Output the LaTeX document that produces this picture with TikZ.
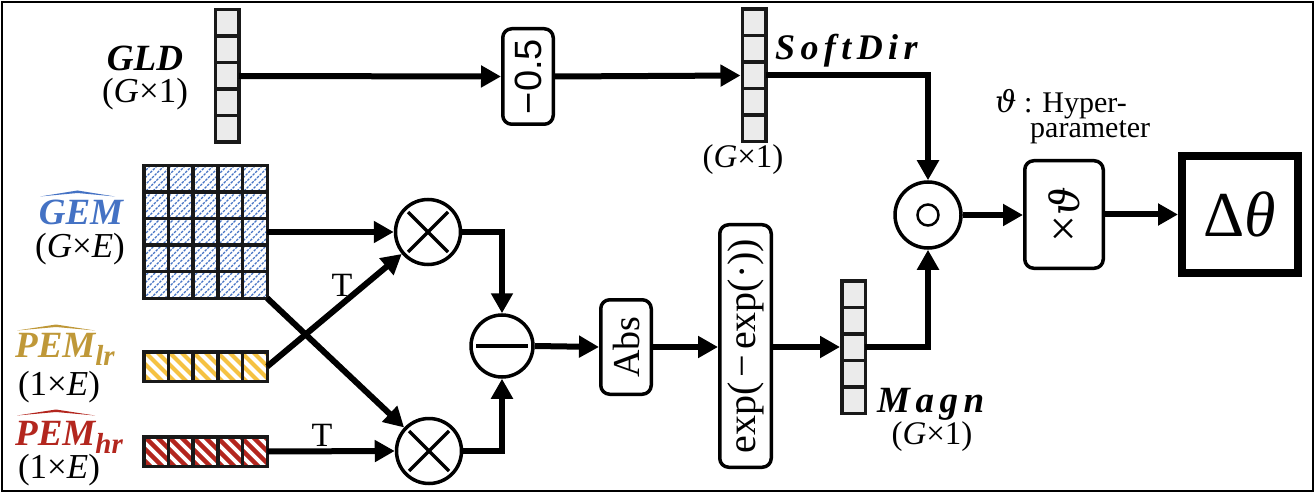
\documentclass[tikz,border=0pt]{standalone}
\usepackage{fontspec}
\setmainfont{Liberation Serif}
\newfontfamily\sansf{Liberation Sans}
\newfontfamily\grk{DejaVu Serif}
\usetikzlibrary{arrows.meta,calc}

\definecolor{gemblue}{HTML}{4472C4}
\definecolor{lrgold}{HTML}{BF9838}
\definecolor{lryellow}{HTML}{F5C242}
\definecolor{hrred}{HTML}{B3261E}
\definecolor{cellgray}{HTML}{EBEBEB}

\newcommand{\myfs}[1]{\fontsize{#1}{#1}\selectfont}
\newcommand{\lblfont}{\bfseries\itshape}
\newcommand{\vth}{{\grk\itshape ϑ}}

\tikzset{
  conn/.style={line width=6pt, -{Triangle[length=20pt,width=21pt]}},
  vecbox/.style={draw=none, fill=cellgray, minimum width=23.5pt, minimum height=132.5pt, inner sep=0pt, outer sep=0pt},
  matbox/.style={draw=none, fill=white, minimum width=123.5pt, inner sep=0pt, outer sep=0pt},
  gridline/.style={line width=3.5pt, draw=black!90},
  opnode/.style={circle, draw, line width=3.5pt, minimum size=65pt, inner sep=0pt, fill=white},
  rbox/.style={draw, line width=3.5pt, rounded corners=9pt, inner sep=0pt, fill=white},
  lbl/.style={inner sep=0pt},
  sym/.style={line width=3.5pt},
}

\newcommand{\drawvec}[1]{%
  \draw[gridline] (#1.south west) rectangle (#1.north east);
  \foreach \k in {1,...,4}
    \draw[gridline] ($(#1.north west)!\k/5!(#1.south west)$) -- ($(#1.north east)!\k/5!(#1.south east)$);
}
\newcommand{\drawrow}[1]{%
  \draw[gridline] (#1.south west) rectangle (#1.north east);
  \foreach \k in {1,...,4}
    \draw[gridline] ($(#1.north west)!\k/5!(#1.north east)$) -- ($(#1.south west)!\k/5!(#1.south east)$);
}

\begin{document}
\begin{tikzpicture}[x=1pt,y=1pt]
\useasboundingbox (0,0) rectangle (1316,-494);
\draw[line width=1.8pt] (2,-2) rectangle (1313,-491);

% ---------- vectors ----------
\node[vecbox] (gld) at (227,-76) {};
\node[vecbox] (sd) at (754,-75.5) {};
\node[vecbox] (magn) at (853.5,-347) {};
\drawvec{gld}
\drawvec{sd}
\drawvec{magn}

% ---------- GEM matrix ----------
\node[matbox, minimum height=132.5pt] (gem) at (205.5,-232) {};
\begin{scope}
  \clip (gem.south west) rectangle (gem.north east);
  \foreach \i in {0,7,...,280}
    \draw[gemblue, line width=1.3pt, dash pattern=on 2.5pt off 1.2pt] ($(gem.south west)+(\i-140,0)$) -- ++(140,140);
\end{scope}
\draw[gridline] (gem.south west) rectangle (gem.north east);
\foreach \k in {1,...,4} {
  \draw[gridline] ($(gem.north west)!\k/5!(gem.north east)$) -- ($(gem.south west)!\k/5!(gem.south east)$);
  \draw[gridline] ($(gem.north west)!\k/5!(gem.south west)$) -- ($(gem.north east)!\k/5!(gem.south east)$);
}

% ---------- PEM rows ----------
\node[matbox, minimum height=29.5pt] (pemlr) at (205.5,-366.5) {};
\node[matbox, minimum height=29.5pt] (pemhr) at (205.5,-451.5) {};
\begin{scope}
  \clip (pemlr.south west) rectangle (pemlr.north east);
  \foreach \i in {0,12,...,180}
    \draw[lryellow, line width=4pt] ($(pemlr.north west)+(\i-40,5)$) -- ++(40,-40);
\end{scope}
\begin{scope}
  \clip (pemhr.south west) rectangle (pemhr.north east);
  \foreach \i in {0,12,...,180}
    \draw[hrred, line width=4.3pt] ($(pemhr.north west)+(\i-40,5)$) -- ++(40,-40);
\end{scope}
\drawrow{pemlr}
\drawrow{pemhr}

% ---------- operators ----------
\node[opnode] (otu) at (428,-232) {};
\node[opnode] (otl) at (429,-451) {};
\node[opnode, minimum size=62pt] (minus) at (502,-346) {};
\node[opnode, minimum size=66pt] (odot) at (928,-215) {};
\draw[sym] ($(otu)+(-20,-20)$) -- ($(otu)+(20,20)$);
\draw[sym] ($(otu)+(-20,20)$) -- ($(otu)+(20,-20)$);
\draw[sym] ($(otl)+(-20,-20)$) -- ($(otl)+(20,20)$);
\draw[sym] ($(otl)+(-20,20)$) -- ($(otl)+(20,-20)$);
\draw[sym] ($(minus)+(-26,0)$) -- ($(minus)+(26,0)$);
\draw[line width=2.5pt] (odot) circle (10.5pt);

% ---------- boxes ----------
\node[rbox, minimum width=50.5pt, minimum height=95.5pt] (m05) at (528,-76.5) {};
\node[rotate=90, font=\sansf\myfs{38}] (m05t) at (m05) {−0.5};
\node[rbox, minimum width=50.5pt, minimum height=94.5pt] (abs) at (626,-347) {};
\node[rotate=90, font=\myfs{38}] (abst) at (abs) {Abs};
\node[rbox, minimum width=51.5pt, minimum height=242.5pt] (exp) at (745.5,-346) {};
\node[rotate=90, font=\myfs{40}] (expt) at (exp) {exp(\hspace{0.12em}−\hspace{0.12em}exp(·))};
\node[rbox, minimum width=78.5pt, minimum height=107.5pt] (thb) at (1064,-214.5) {};
\node[rotate=90, font=\myfs{40}] (thbt) at (thb) {{\myfs{48}×}\vth};
\node[draw, line width=8pt, minimum width=116pt, minimum height=117pt, inner sep=0pt] (dth) at (1240,-214.5) {};
\node[font=\myfs{64}] (dtht) at (dth) {Δ\textit{θ}};

% ---------- connectors ----------
\draw[conn] (gld.east) -- (m05.west);
\draw[conn, shorten >=1.75pt] (m05.east) -- (sd.west);
\draw[conn] (sd.east) -| (odot.north);
\draw[conn] (gem.east) -- (otu.west);
\draw[conn] (otu.east) -| (minus.north);
\draw[conn] (otl.east) -| (minus.south);
\draw[conn] (pemhr.east) -- (otl.west);
\draw[conn] (pemlr.east) -- (otu);
\draw[conn] (gem.south east) -- (otl);
\draw[conn] (minus.east) -- (abs.west);
\draw[conn] (abs.east) -- (abs.east -| exp.west);
\draw[conn, shorten >=1.75pt] (exp.east |- magn.west) -- (magn.west);
\draw[conn] (magn.east) -| (odot.south);
\draw[conn] (odot.east) -- (odot.east -| thb.west);
\draw[conn] (thb.east) -- (thb.east -| dth.west);

\node[font=\myfs{34}] (t1) at (342,-285) {T};
\node[font=\myfs{34}] (t2) at (322,-435) {T};

% ---------- labels ----------
\node[lbl, anchor=base, font=\lblfont\myfs{37}] (gldl) at (145,-71) {GLD};
\node[lbl, anchor=base, font=\myfs{35}] (gldd) at (145,-103) {(\textit{G}×1)};

\node[lbl, anchor=base, font=\lblfont\myfs{37}, text=gemblue] (geml) at (81,-225) {GEM};
\fill[gemblue] (40,-196.5) -- (77.5,-190.5) -- (115,-196.5) -- (77.5,-193) -- cycle;
\node[lbl, anchor=base, font=\myfs{35}] (gemd) at (80,-258) {(\textit{G}×\textit{E})};

\node[lbl, anchor=base west, font=\lblfont\myfs{37}, text=lrgold] (lrl) at (15,-357) {PEM\raisebox{-8pt}{\myfs{29}lr}};
\fill[lrgold] (17,-330.5) -- (56,-324.5) -- (95,-330.5) -- (56,-327) -- cycle;
\node[lbl, anchor=base, font=\myfs{35}] (lrd) at (59,-395) {(1×\textit{E})};

\node[lbl, anchor=base west, font=\lblfont\myfs{37}, text=hrred] (hrl) at (15,-445) {PEM\raisebox{-8pt}{\myfs{29}hr}};
\fill[hrred] (17,-415.5) -- (56,-409.5) -- (95,-415.5) -- (56,-412) -- cycle;
\node[lbl, anchor=base, font=\myfs{35}] (hrd) at (59,-478) {(1×\textit{E})};

\node[lbl, anchor=base west, font=\lblfont\myfs{36}] (sdl) at (775,-60) {\addfontfeature{LetterSpace=15}SoftDir};
\node[lbl, anchor=base, font=\myfs{33}] (sdd) at (743,-168) {(\textit{G}×1)};

\node[lbl, anchor=base west, font=\lblfont\myfs{37}] (magnl) at (877,-412) {\addfontfeature{LetterSpace=15}Magn};
\node[lbl, anchor=base, font=\myfs{33}] (magnd) at (932,-444) {(\textit{G}×1)};

\node[lbl, anchor=base west, font=\myfs{30}] (hyp1) at (995,-113) {\vth\ : Hyper-};
\node[lbl, anchor=base west, font=\myfs{30}] (hyp2) at (1030,-138) {parameter};
\end{tikzpicture}
\end{document}
